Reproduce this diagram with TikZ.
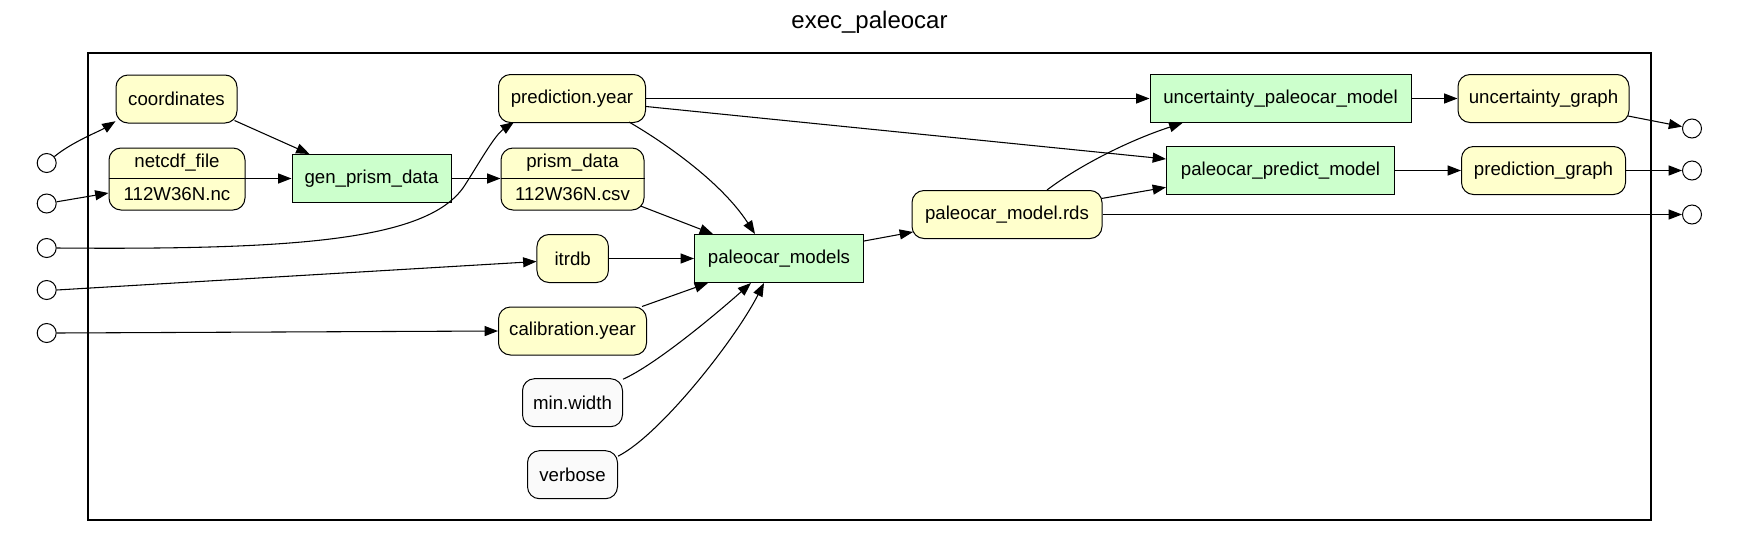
\documentclass[tikz,border=0pt]{standalone}
\usepackage{fontspec}
\setmainfont{Liberation Sans}
\usetikzlibrary{arrows.meta,calc}
\definecolor{nodeyellow}{HTML}{FFFFCC}
\definecolor{nodegreen}{HTML}{CCFFCC}
\definecolor{nodewhite}{HTML}{FAFAFA}
\begin{document}
\begin{tikzpicture}[x=0.75pt,y=0.75pt,
  every node/.style={font=\fontsize{14pt}{16pt}\selectfont, inner sep=0pt},
  data/.style={draw, line width=0.75pt, fill=nodeyellow, rounded corners=9pt, minimum height=36pt},
  param/.style={data, fill=nodewhite},
  proc/.style={draw, line width=0.75pt, fill=nodegreen, minimum height=36pt},
  port/.style={draw, line width=0.75pt, fill=white, circle, minimum size=14.25pt},
  arr/.style={-{Triangle[length=10pt,width=7.5pt]}, line width=0.8pt},
  divider/.style={line width=0.75pt}
]
\useasboundingbox (0,0) rectangle (1739,-536);
% title and cluster
\node[font=\fontsize{18pt}{20pt}\selectfont] (title) at (869.5,-22) {exec\_paleocar};
\draw[line width=1.6pt] (88,-53) rectangle (1651,-520);

% ports
\node[port] (c1) at (46.7,-163) {};
\node[port] (c2) at (46.7,-203.5) {};
\node[port] (c3) at (46.7,-248) {};
\node[port] (c4) at (46.7,-290) {};
\node[port] (c5) at (46.7,-333) {};
\node[port] (r1) at (1692,-128.5) {};
\node[port] (r2) at (1692,-170.5) {};
\node[port] (r3) at (1692,-214.5) {};

% nodes
\node[data, minimum width=90.75pt] (coord) at (176.5,-99) {coordinates};
\node[data, minimum width=102pt, minimum height=46.5pt] (netcdf) at (177,-179) {};
\draw[divider] (netcdf.west |- 0,-178.3) -- (netcdf.east |- 0,-178.3);
\node (netcdftop) at (177,-163) {netcdf\_file};
\node (netcdfbot) at (177,-194) {112W36N.nc};
\node[proc, minimum width=119.25pt] (gen) at (371.5,-178.5) {gen\_prism\_data};

\node[data, minimum width=110.25pt] (pred) at (572,-98.5) {prediction.year};
\node[data, minimum width=107.25pt, minimum height=46.5pt] (prism) at (572.5,-179) {};
\draw[divider] (prism.west |- 0,-178.3) -- (prism.east |- 0,-178.3);
\node (prismtop) at (572.5,-163) {prism\_data};
\node (prismbot) at (572.5,-194) {112W36N.csv};
\node[data, minimum width=53.6pt] (itrdb) at (572.7,-258.5) {itrdb};
\node[data, minimum width=111pt] (calib) at (572.5,-331) {calibration.year};
\node[param, minimum width=75pt] (minw) at (572.5,-402.7) {min.width};
\node[param, minimum width=67.5pt] (verb) at (572.5,-474.7) {verbose};

\node[proc, minimum width=126.75pt] (models) at (779,-258.5) {paleocar\_models};
\node[data, minimum width=142.5pt] (rds) at (1007,-214.5) {paleocar\_model.rds};
\node[proc, minimum width=195.75pt] (unc) at (1280.5,-98.5) {uncertainty\_paleocar\_model};
\node[proc, minimum width=171pt] (predmod) at (1280.5,-170.5) {paleocar\_predict\_model};
\node[data, minimum width=128.25pt] (uncg) at (1543.5,-98.5) {uncertainty\_graph};
\node[data, minimum width=123pt] (predg) at (1543.5,-170.5) {prediction\_graph};

% edges
\draw[arr] (c1.40) .. controls (72,-142) and (100,-131) .. (coord.200);
\draw[arr] (c2) -- ($(netcdf.west)+(0,-14)$);
\draw[arr] (c3.east) .. controls (300,-250) and (430,-240) .. (465,-185)
           .. controls (480,-161.4) and (495,-135) .. ($(pred.south west)+(16,1)$);
\draw[arr] (c4.east) -- ($(itrdb.west)+(0,-3)$);
\draw[arr] (c5.east) -- (calib.west);
\draw[arr] ($(coord.south east)+(-3,3)$) -- ($(gen.north west)+(18,0)$);
\draw[arr] (netcdf.east |- gen.west) -- (gen.west);
\draw[arr] (gen.east) -- (prism.west |- gen.east);
\draw[arr] ($(pred.south east)+(-17,1)$) .. controls (660,-140) and (720,-180) .. ($(models.north west)+(61,0)$);
\draw[arr] ($(prism.east)+(-4,-27)$) -- ($(models.north west)+(19,0)$);
\draw[arr] (itrdb.east) -- (models.west);
\draw[arr] ($(calib.north east)+(-5,0)$) -- ($(models.south west)+(14,0)$);
\draw[arr] ($(minw.north east)+(0,-1)$) .. controls (655,-365) and (715,-315) .. ($(models.south west)+(57,0)$);
\draw[arr] ($(verb.north east)+(0,-6)$) .. controls (660,-435) and (735,-340) .. ($(models.south west)+(70,0)$);
\draw[arr] ($(models.north east)+(0,-7)$) -- ($(rds.west)+(1.5,-17.5)$);
\draw[arr] (pred.east) -- (unc.west);
\draw[arr] ($(pred.east)+(0,-8)$) -- ($(predmod.west)+(0,11.5)$);
\draw[arr] ($(rds.north)+(40,0)$) .. controls (1080,-165) and (1130,-140) .. ($(unc.south west)+(33,0)$);
\draw[arr] ($(rds.east)+(-1,16)$) -- ($(predmod.west)+(0,-16.8)$);
\draw[arr] (rds.east) -- (r3);
\draw[arr] (unc.east) -- (uncg.west);
\draw[arr] (predmod.east) -- (predg.west);
\draw[arr] ($(uncg.east)+(-1.5,-17.5)$) -- (r1);
\draw[arr] (predg.east) -- (r2);
\end{tikzpicture}
\end{document}
